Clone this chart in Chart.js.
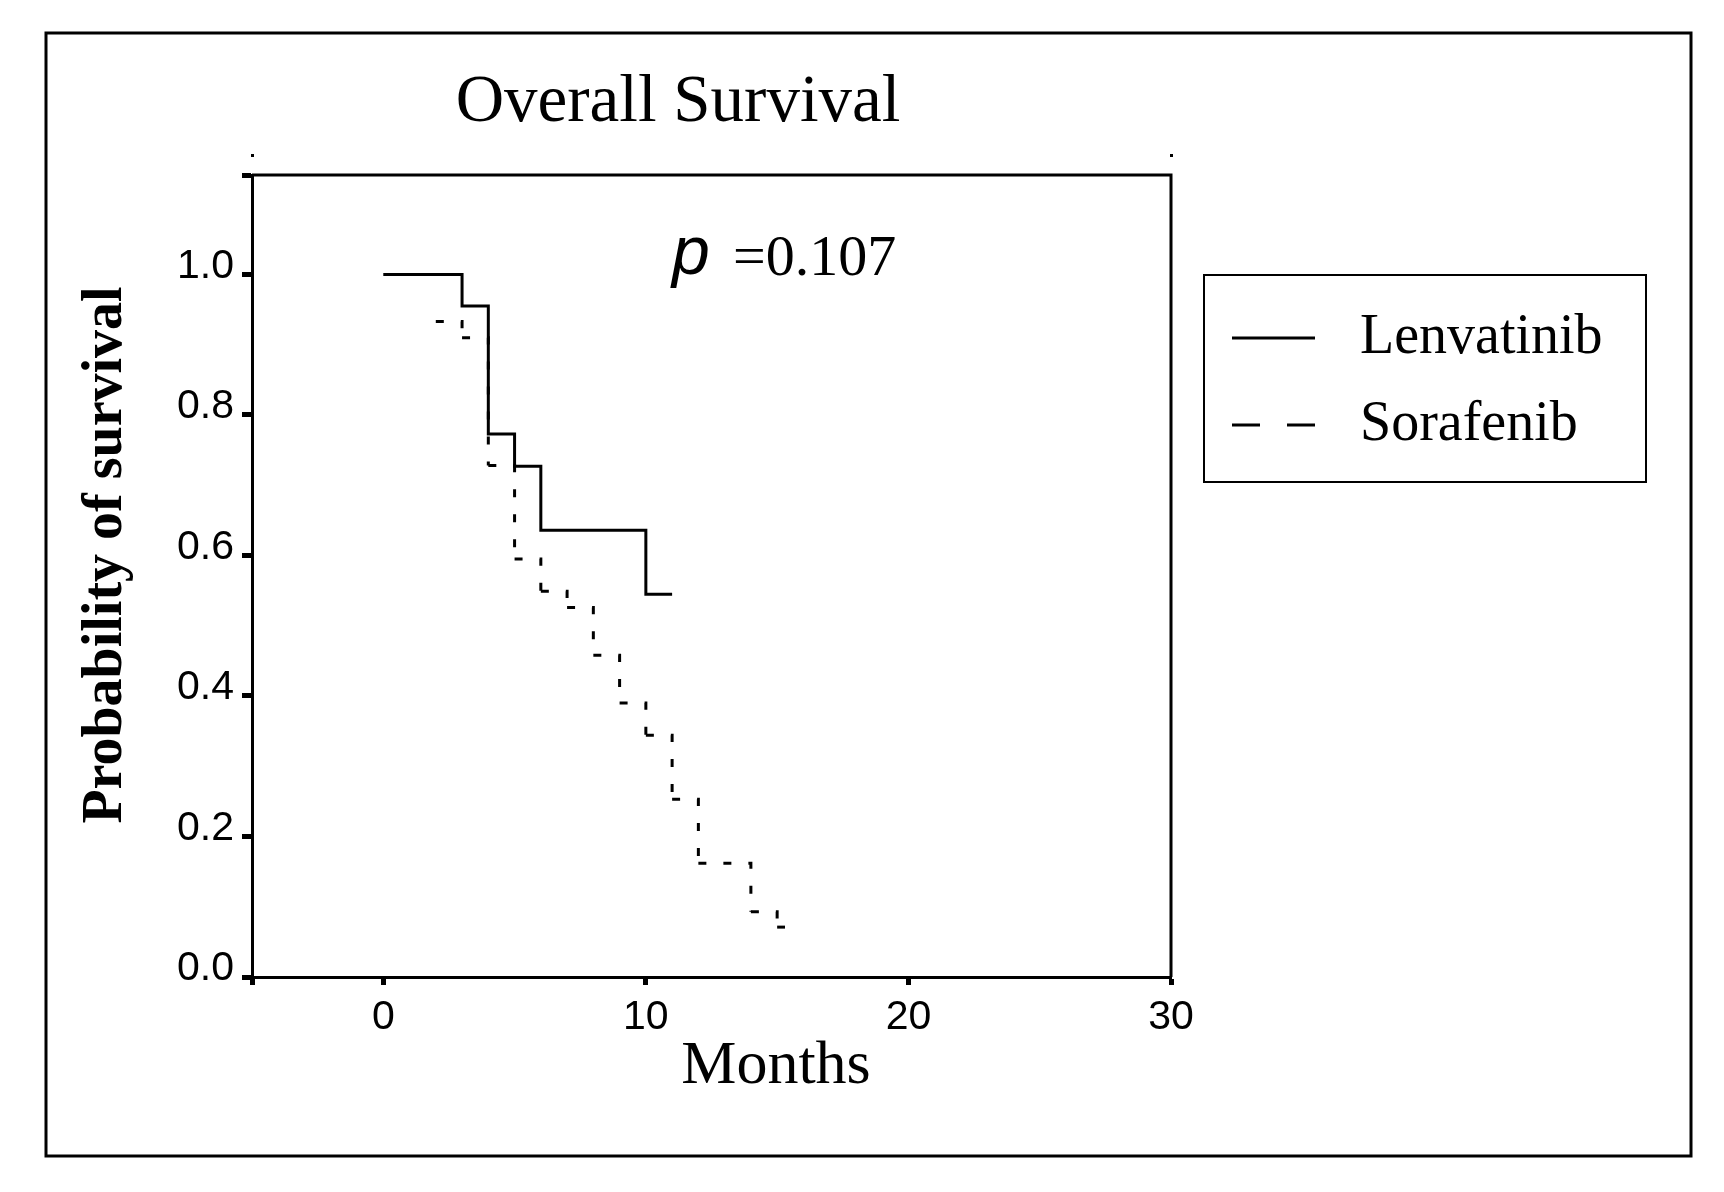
<!DOCTYPE html>
<html>
<head>
<meta charset="utf-8">
<script src="https://cdn.jsdelivr.net/npm/chart.js@4.4.1/dist/chart.umd.min.js"></script>
<style>
  html, body { margin: 0; padding: 0; background: #fff; }
  canvas { display: block; }
</style>
</head>
<body>
<canvas id="chart" width="1724" height="1192"></canvas>
<script>
// Kaplan-Meier
const lenvMonths = [0, 3, 4, 5, 6, 10, 11];
const lenvSurv = [1.0, 0.955, 0.773, 0.727, 0.636, 0.545, 0.545];

const soraMonths = [2, 3, 4, 5, 6, 7, 8, 9, 10, 11, 12, 14, 15, 15.3];
const soraSurv = [0.933, 0.91, 0.728, 0.595, 0.549, 0.526, 0.458, 0.39, 0.344, 0.253, 0.162, 0.093, 0.071, 0.071];

const xTicks = [-5, 0, 10, 20, 30];
const yTicks = [0, 0.2, 0.4, 0.6, 0.8, 1.0, 1.1416];
const seriesNames = ['Lenvatinib', 'Sorafenib'];

const toPoints = (xs, ys) => xs.map((x, i) => ({ x, y: ys[i] }));

const tickFont = { family: '"Liberation Sans Narrow", "Liberation Sans", Arial, sans-serif', size: 41 };
const serif = '"Liberation Serif", "Times New Roman", serif';

// moldura, títulos e legenda
const decor = {
  id: 'decor',
  beforeDraw(chart) {
    const { ctx } = chart;
    ctx.save();
    ctx.fillStyle = '#fff';
    ctx.fillRect(0, 0, chart.width, chart.height);
    ctx.restore();
  },
  afterDraw(chart) {
    const { ctx, chartArea: a } = chart;
    ctx.save();
    ctx.strokeStyle = '#000';
    ctx.fillStyle = '#000';

    // borda externa
    ctx.lineWidth = 3;
    ctx.strokeRect(46, 33, 1645, 1123);

    // topo e lado direito da área do gráfico
    ctx.beginPath();
    ctx.moveTo(a.left, a.top);
    ctx.lineTo(a.right, a.top);
    ctx.lineTo(a.right, a.bottom);
    ctx.stroke();
    ctx.fillRect(a.left - 1, a.top - 21, 3, 3);
    ctx.fillRect(a.right - 1, a.top - 21, 3, 3);

    // títulos
    ctx.textBaseline = 'alphabetic';
    ctx.textAlign = 'center';
    ctx.font = `67px ${serif}`;
    ctx.fillText('Overall Survival', 678, 121);
    ctx.font = `62px ${serif}`;
    ctx.fillText('Months', 776, 1083);

    ctx.save();
    ctx.translate(121, 555);
    ctx.rotate(-Math.PI / 2);
    ctx.font = `bold 56px ${serif}`;
    ctx.fillText('Probability of survival', 0, 0);
    ctx.restore();

    // valor de p
    ctx.textAlign = 'left';
    ctx.font = 'italic 68px "Liberation Sans", Arial, sans-serif';
    ctx.fillText('p', 672, 274);
    ctx.font = `58px ${serif}`;
    ctx.fillText('=0.107', 733, 275);

    // legenda
    ctx.lineWidth = 2;
    ctx.strokeRect(1204, 275, 442, 207);
    const ds = chart.data.datasets;
    const rows = [338, 425];
    const dashes = [[], [28, 27]];
    ds.forEach((d, i) => {
      ctx.beginPath();
      ctx.lineWidth = 3;
      ctx.setLineDash(dashes[i]);
      ctx.moveTo(1232, rows[i]);
      ctx.lineTo(1315, rows[i]);
      ctx.stroke();
      ctx.setLineDash([]);
      ctx.font = `56px ${serif}`;
      ctx.fillText(d.label, 1360, rows[i] + 15);
    });
    ctx.restore();
  },
};

new Chart(document.getElementById('chart'), {
  type: 'scatter',
  data: {
    datasets: [
      {
        label: seriesNames[0],
        data: toPoints(lenvMonths, lenvSurv),
        showLine: true,
        stepped: 'before',
        borderColor: '#000',
        borderWidth: 3,
        pointRadius: 0,
        fill: false,
      },
      {
        label: seriesNames[1],
        data: toPoints(soraMonths, soraSurv),
        showLine: true,
        stepped: 'before',
        borderColor: '#000',
        borderWidth: 3,
        borderDash: [8, 17],
        pointRadius: 0,
        fill: false,
        // recomeça o tracejado em cada degrau
        segment: { borderDashOffset: (c) => (c.p0DataIndex % 2) * 0.01 },
      },
    ],
  },
  options: {
    responsive: false,
    animation: false,
    devicePixelRatio: 1,
    layout: { padding: { top: 175, right: 553, left: 0, bottom: 0 } },
    plugins: { legend: { display: false }, tooltip: { enabled: false } },
    scales: {
      x: {
        type: 'linear',
        min: -5,
        max: 30,
        afterBuildTicks: (s) => { s.ticks = xTicks.map((v) => ({ value: v })); },
        afterFit: (s) => { s.height = 215; },
        grid: { drawOnChartArea: false, drawTicks: true, tickLength: 8, tickWidth: 5, tickColor: '#000' },
        border: { display: true, color: '#000', width: 3 },
        ticks: {
          color: '#000',
          font: tickFont,
          padding: 8,
          maxRotation: 0,
          callback: (v) => (v < 0 ? '' : String(v)),
        },
      },
      y: {
        type: 'linear',
        min: 0,
        max: 1.1416,
        afterBuildTicks: (s) => { s.ticks = yTicks.map((v) => ({ value: v })); },
        afterFit: (s) => { s.width = 252; },
        grid: { drawOnChartArea: false, drawTicks: true, tickLength: 10, tickWidth: 5, tickColor: '#000' },
        border: { display: true, color: '#000', width: 3 },
        ticks: {
          color: '#000',
          font: tickFont,
          padding: 8,
          labelOffset: -8,
          callback: (v) => (v > 1.05 ? '' : v.toFixed(1)),
        },
      },
    },
  },
  plugins: [decor],
});
</script>
</body>
</html>
